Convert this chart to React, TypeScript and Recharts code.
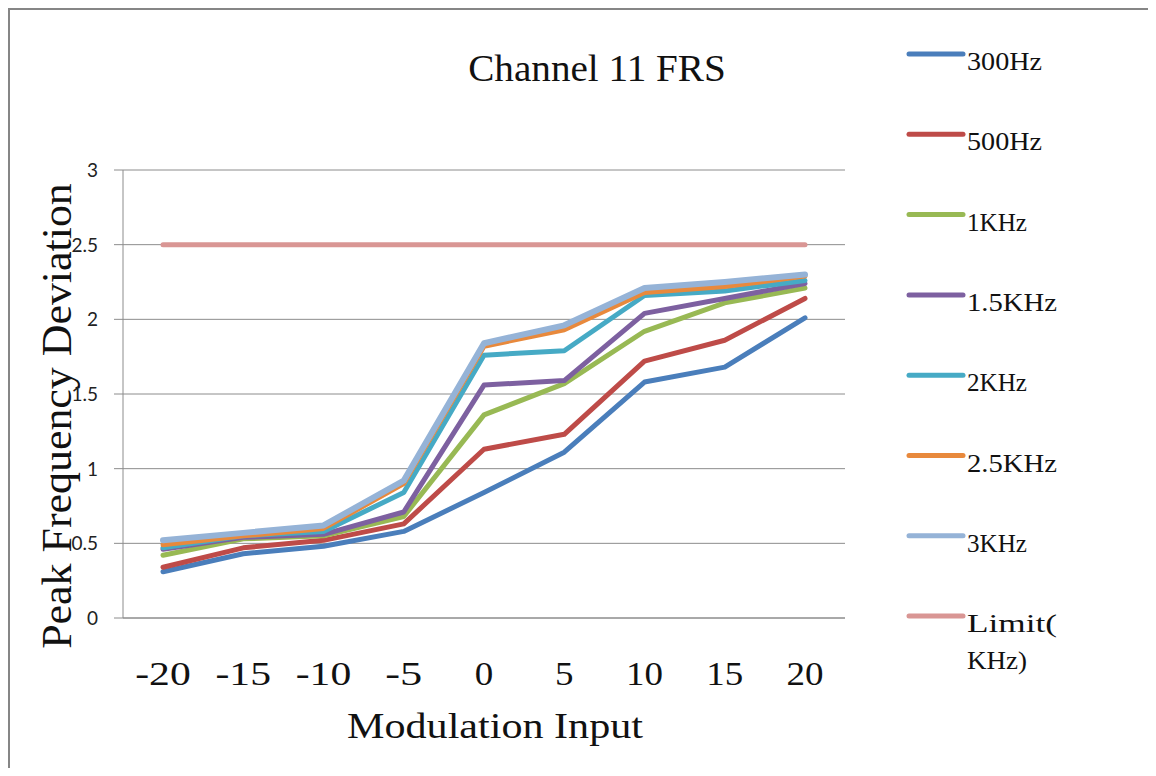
import { LineChart, Line, XAxis, YAxis, CartesianGrid, Legend, Customized } from 'recharts';

const inputs = ['-20', '-15', '-10', '-5', '0', '5', '10', '15', '20'];
const hz300 = [0.31, 0.43, 0.48, 0.58, 0.84, 1.11, 1.58, 1.68, 2.01];
const hz500 = [0.34, 0.47, 0.52, 0.63, 1.13, 1.23, 1.72, 1.86, 2.14];
const khz1 = [0.42, 0.53, 0.55, 0.68, 1.36, 1.57, 1.92, 2.11, 2.21];
const khz15 = [0.46, 0.54, 0.56, 0.71, 1.56, 1.59, 2.04, 2.14, 2.24];
const khz2 = [0.47, 0.55, 0.58, 0.84, 1.76, 1.79, 2.16, 2.19, 2.26];
const khz25 = [0.49, 0.55, 0.6, 0.9, 1.82, 1.93, 2.18, 2.22, 2.29];
const khz3 = [0.52, 0.57, 0.62, 0.92, 1.84, 1.96, 2.21, 2.25, 2.3];
const limit = [2.5, 2.5, 2.5, 2.5, 2.5, 2.5, 2.5, 2.5, 2.5];
const yTicks = [0, 0.5, 1, 1.5, 2, 2.5, 3];

const series = [
  { key: 's300', name: '300Hz', values: hz300, color: '#4A7EBB', width: 5 },
  { key: 's500', name: '500Hz', values: hz500, color: '#BE4B48', width: 5 },
  { key: 's1k', name: '1KHz', values: khz1, color: '#98B954', width: 5 },
  { key: 's15k', name: '1.5KHz', values: khz15, color: '#7D60A0', width: 5 },
  { key: 's2k', name: '2KHz', values: khz2, color: '#46AAC5', width: 5 },
  { key: 's25k', name: '2.5KHz', values: khz25, color: '#E8893C', width: 5 },
  { key: 's3k', name: '3KHz', values: khz3, color: '#95B3D7', width: 6 },
  { key: 'lim', name: 'Limit(KHz)', values: limit, color: '#D99694', width: 5 },
];

const data = inputs.map((input, i) => {
  const row: Record<string, string | number> = { input };
  series.forEach((s) => (row[s.key] = s.values[i]));
  return row;
});

const SERIF = "'Liberation Serif', 'DejaVu Serif', serif";

// narrow, tall text like the SimSun original
const Stretch = ({ x, y, text, size, advance, anchor = 'middle', transform }: any) => (
  <text
    x={x}
    y={y}
    fontFamily={SERIF}
    fontSize={size}
    fill="#111"
    textAnchor={anchor}
    textLength={text.length * advance}
    lengthAdjust="spacingAndGlyphs"
    transform={transform}
  >
    {text}
  </text>
);

const XTick = ({ x, y, payload }: any) => (
  <Stretch x={x} y={y + 67} text={String(payload.value)} size={33} advance={18.5} />
);

const YTick = ({ x, y, payload }: any) => (
  <text x={x} y={y} dy={7} textAnchor="end" fontFamily="Lato, 'Open Sans', sans-serif" fontSize={19} fill="#222">
    {payload.value}
  </text>
);

const XLabel = ({ viewBox }: any) => (
  <Stretch x={viewBox.x + viewBox.width / 2 + 11} y={viewBox.y + 120} text="Modulation Input" size={35} advance={18.5} />
);

const YLabel = ({ viewBox }: any) => {
  const bx = viewBox.x + 8;
  const cy = viewBox.y + viewBox.height / 2 + 22;
  return (
    <Stretch
      x={bx}
      y={cy}
      text="Peak Frequency Deviation"
      size={43}
      advance={19.4}
      transform={`rotate(-90, ${bx}, ${cy})`}
    />
  );
};

const Title = () => <Stretch x={589} y={73} text="Channel 11 FRS" size={37} advance={18.4} />;

const chunk = (s: string, n: number) => {
  const out: string[] = [];
  for (let i = 0; i < s.length; i += n) out.push(s.slice(i, i + n));
  return out;
};

const LegendBox = () => (
  <svg width={240} height={680}>
    {series.map((s, i) => {
      const y = 14 + i * 80.3;
      return (
        <g key={s.key}>
          <line x1={9} x2={63} y1={y} y2={y} stroke={s.color} strokeWidth={5} strokeLinecap="round" />
          {chunk(s.name, 6).map((t, j) => (
            <Stretch key={j} x={67} y={y + 16 + j * 37} text={t} size={26} advance={15} anchor="start" />
          ))}
        </g>
      );
    })}
  </svg>
);

export default function App() {
  return (
    <div style={{ position: 'relative', width: 1140, height: 760 }}>
      <LineChart
        width={1140}
        height={760}
        data={data}
        margin={{ top: 162, right: 303, bottom: 120, left: 55 }}
      >
        <CartesianGrid vertical={false} stroke="#8c8c8c" strokeWidth={1} />
        <XAxis
          dataKey="input"
          height={30}
          padding={{ left: 40, right: 40 }}
          axisLine={{ stroke: '#8c8c8c' }}
          tickLine={false}
          tickSize={0}
          tickMargin={0}
          tick={<XTick />}
          interval={0}
          label={{ content: <XLabel /> }}
        />
        <YAxis
          width={60}
          domain={[0, 3]}
          ticks={yTicks}
          interval={0}
          axisLine={{ stroke: '#8c8c8c' }}
          tickLine={{ stroke: '#8c8c8c' }}
          tickSize={9}
          tickMargin={16}
          tick={<YTick />}
          label={{ content: <YLabel /> }}
        />
        {series.map((s) => (
          <Line
            key={s.key}
            dataKey={s.key}
            name={s.name}
            stroke={s.color}
            strokeWidth={s.width}
            strokeLinecap="round"
            strokeLinejoin="round"
            dot={false}
            activeDot={false}
            isAnimationActive={false}
          />
        ))}
        <Legend
          layout="vertical"
          align="center"
          verticalAlign="middle"
          wrapperStyle={{ left: 892, top: 32, width: 240, height: 680 }}
          content={<LegendBox />}
        />
        <Customized component={<Title />} />
      </LineChart>
      <div
        style={{
          position: 'absolute',
          left: 0,
          top: 0,
          width: 1140,
          height: 760,
          borderLeft: '2px solid #868686',
          borderTop: '2px solid #868686',
          boxSizing: 'border-box',
          pointerEvents: 'none',
        }}
      />
    </div>
  );
}
